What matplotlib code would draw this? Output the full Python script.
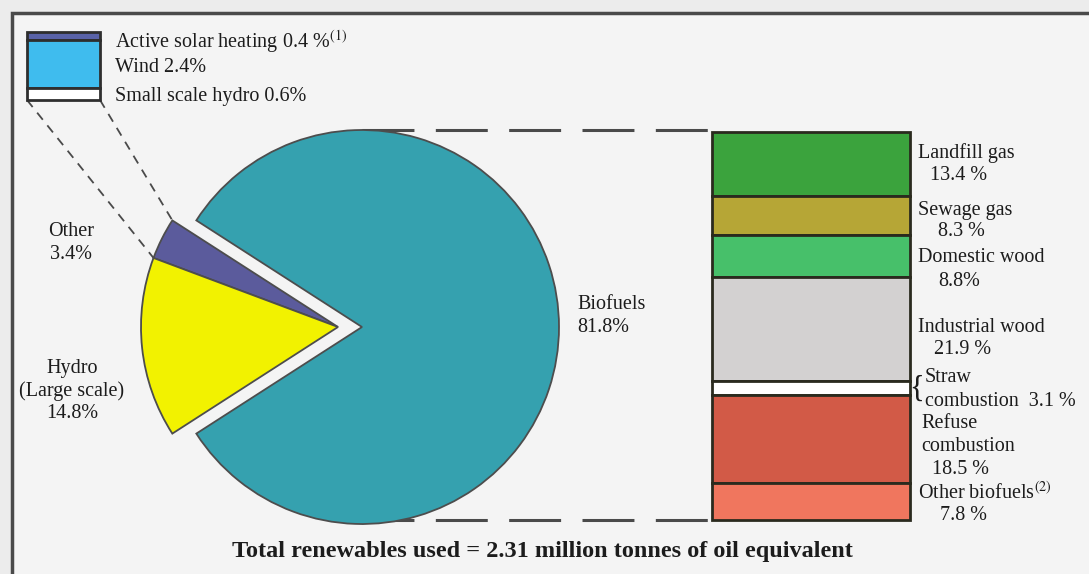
import matplotlib.pyplot as plt
from matplotlib.patches import Rectangle
import numpy as np

plt.rcParams['font.family'] = ['Liberation Serif', 'DejaVu Serif']
plt.rcParams['mathtext.fontset'] = 'stix'

W, H = 1089, 574

# share of total renewables (%)
pie_labels = ['Other\n3.4%', 'Hydro\n(Large scale)\n14.8%', 'Biofuels\n81.8%']
pie_values = [3.4, 14.8, 81.8]
pie_colors = ['#5b5b9c', '#f2f200', '#35a1af']

# breakdown of "Other"
other_labels = ['Active solar heating 0.4 %$^{(1)}$', 'Wind 2.4%', 'Small scale hydro 0.6%']
other_values = [0.4, 2.4, 0.6]
other_colors = ['#5962a8', '#3fbcee', '#ffffff']

# breakdown of biofuels, top to bottom
bio_names = ['Landfill gas', 'Sewage gas', 'Domestic wood', 'Industrial wood',
             'Straw combustion', 'Refuse\ncombustion', 'Other biofuels$^{(2)}$']
bio_values = [13.4, 8.3, 8.8, 21.9, 3.1, 18.5, 7.8]
bio_colors = ['#3ba33d', '#b6a636', '#47c06a', '#d3d1d1', '#ffffff', '#d25a47', '#f0765e']

total_mtoe = 2.31

fig = plt.figure(figsize=(W / 100, H / 100), dpi=100)
fig.patch.set_facecolor('#ececec')

# overlay axes in pixel units, y pointing down
ax = fig.add_axes([0, 0, 1, 1])
ax.set_xlim(0, W)
ax.set_ylim(H, 0)
ax.axis('off')

ax.add_patch(Rectangle((12, 13), W + 20, H, facecolor='#f4f4f4',
                       edgecolor='#4a4a4a', linewidth=2.5, zorder=0))

txt = dict(color='#1c1c1c', fontsize=14.5)

# ---- pie ----
cx, cy, r = 362, 327, 197
shift = 24
pax = fig.add_axes([0, 0, 1, 1], zorder=2)
start = 180 - 360 * (pie_values[0] + pie_values[1]) / 100 / 2
wedges, _ = pax.pie(pie_values, colors=pie_colors, startangle=start,
                    radius=r, center=(cx, H - cy),
                    wedgeprops=dict(edgecolor='#4d4d4d', linewidth=1.3))
# pull the two small slices out to the left
for w in wedges[:2]:
    w.set_center((cx - shift, H - cy))
pax.set_aspect('auto')
pax.set_xlim(0, W)
pax.set_ylim(0, H)
pax.axis('off')

ax.text(71, 243, pie_labels[0], ha='center', va='center', linespacing=1.3, **txt)
ax.text(72, 391, pie_labels[1], ha='center', va='center', linespacing=1.25, **txt)
ax.text(577, 316, pie_labels[2], ha='left', va='center', linespacing=1.3, **txt)

# ---- key for "Other" ----
kx0, kx1, ky0, kscale = 27, 100, 32, 20
kb = ky0 + kscale * np.concatenate([[0], np.cumsum(other_values)[:-1]])
ax.bar((kx0 + kx1) / 2, np.array(other_values) * kscale, bottom=kb,
       width=kx1 - kx0, color=other_colors, edgecolor='#2e2e2e', linewidth=2, zorder=3)
for lab, y in zip(other_labels, [42, 68, 96]):
    ax.text(115, y, lab, ha='left', va='center', **txt)

# dashed leaders from key to the "Other" slice
ky1 = ky0 + kscale * sum(other_values)
ox = cx - shift
t1, t2 = np.radians(wedges[0].theta1), np.radians(wedges[0].theta2)
for kx, t in [(kx1, t1), (kx0, t2)]:
    ax.plot([kx, ox + r * np.cos(t)], [ky1, cy - r * np.sin(t)],
            color='#4a4a4a', linewidth=1.3, dashes=(5, 4), zorder=1)

# ---- biofuel breakdown bar ----
bx0, bx1, btop = 712, 910, 132
bscale = 388 / sum(bio_values)
bb = btop + bscale * np.concatenate([[0], np.cumsum(bio_values)[:-1]])
ax.bar((bx0 + bx1) / 2, np.array(bio_values) * bscale, bottom=bb,
       width=bx1 - bx0, color=bio_colors, edgecolor='#2a2a1e', linewidth=2, zorder=3)

bbot = btop + bscale * sum(bio_values)
for y in [cy - r, bbot]:
    ax.plot([cx, bx0], [y, y], color='#4a4a4a', linewidth=2.2,
            dashes=(17, 7), zorder=1)

# labels beside the bar
lx = 918
rows = [
    (bio_names[0], 153, f'{bio_values[0]} %', 930, 175),
    (bio_names[1], 210, f'{bio_values[1]} %', 938, 232),
    (bio_names[2], 258, f'{bio_values[2]}%', 938, 282),
    (bio_names[3], 328, f'{bio_values[3]} %', 934, 350),
    (bio_names[6], 493, f'{bio_values[6]} %', 940, 516),
]
for name, ny, val, vx, vy in rows:
    ax.text(lx, ny, name, ha='left', va='center', **txt)
    ax.text(vx, vy, val, ha='left', va='center', **txt)

ax.text(lx + 6, 389, '{', ha='right', va='center', color='#1c1c1c', fontsize=22)
ax.text(lx + 7, 378, 'Straw', ha='left', va='center', **txt)
ax.text(lx + 7, 401, f'combustion  {bio_values[4]} %', ha='left', va='center', **txt)
ax.text(lx + 3, 435, bio_names[5], ha='left', va='center', linespacing=1.3, **txt)
ax.text(932, 470, f'{bio_values[5]} %', ha='left', va='center', **txt)

ax.text(542, 551, f'Total renewables used = {total_mtoe} million tonnes of oil equivalent',
        ha='center', va='center', fontsize=17.5, fontweight='bold', color='#1c1c1c')

fig.savefig('out.png', dpi=100, facecolor=fig.get_facecolor())
